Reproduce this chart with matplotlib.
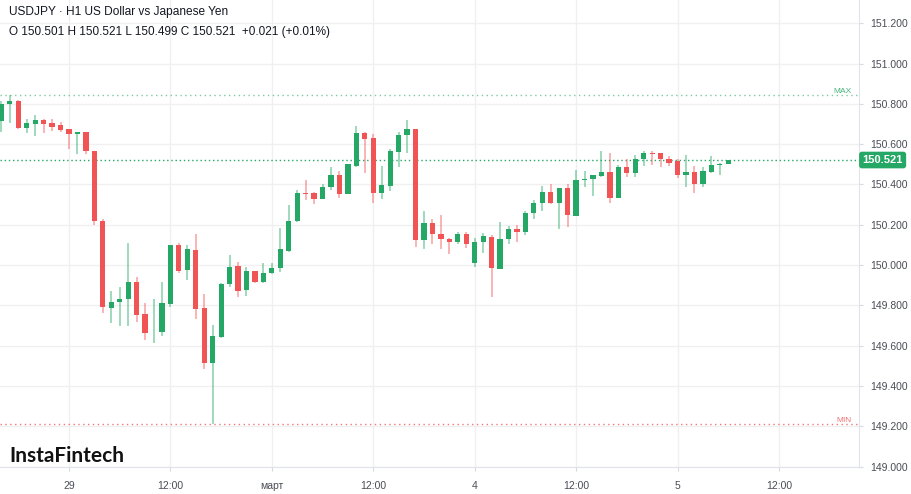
import matplotlib
matplotlib.use("Agg")
import matplotlib.pyplot as plt
import matplotlib.transforms as mtransforms
import numpy as np

# bar index 0 = 29 Feb 00:00, hourly candles (weekend skipped)
hours = list(range(-8, 79))

opens = [150.715, 150.801, 150.816, 150.678, 150.701, 150.720, 150.703, 150.693,
         150.675, 150.648, 150.662, 150.567, 150.220, 149.788, 149.816, 149.830,
         149.914, 149.757, 149.670, 149.669, 149.806, 150.101, 149.975, 150.074,
         149.787, 149.512, 149.644, 149.906, 149.997, 149.874, 149.969, 149.914,
         149.959, 149.983, 150.071, 150.218, 150.357, 150.357, 150.326, 150.385,
         150.447, 150.352, 150.493, 150.657, 150.630, 150.359, 150.392, 150.562,
         150.645, 150.675, 150.124, 150.207, 150.154, 150.131, 150.116, 150.154,
         150.008, 150.116, 150.141, 149.980, 150.128, 150.180, 150.164, 150.256,
         150.306, 150.364, 150.309, 150.384, 150.243, 150.422, 150.425, 150.442,
         150.462, 150.334, 150.488, 150.455, 150.524, 150.557, 150.557, 150.524,
         150.518, 150.447, 150.462, 150.400, 150.463, 150.496, 150.501]
highs = [150.815, 150.845, 150.819, 150.725, 150.744, 150.725, 150.725, 150.711,
         150.675, 150.662, 150.662, 150.567, 150.227, 149.873, 149.889, 150.108,
         149.939, 149.810, 149.831, 149.914, 150.101, 150.108, 150.101, 150.154,
         149.854, 149.702, 149.909, 150.050, 150.017, 149.992, 149.972, 150.008,
         150.008, 150.185, 150.296, 150.372, 150.422, 150.364, 150.402, 150.485,
         150.468, 150.501, 150.691, 150.662, 150.650, 150.490, 150.574, 150.662,
         150.720, 150.677, 150.270, 150.227, 150.248, 150.133, 150.165, 150.165,
         150.136, 150.157, 150.149, 150.212, 150.194, 150.197, 150.270, 150.323,
         150.392, 150.402, 150.384, 150.402, 150.471, 150.468, 150.448, 150.567,
         150.557, 150.498, 150.528, 150.544, 150.566, 150.566, 150.557, 150.541,
         150.524, 150.546, 150.491, 150.488, 150.541, 150.508, 150.521]
lows = [150.662, 150.706, 150.675, 150.653, 150.642, 150.653, 150.665, 150.662,
        150.576, 150.549, 150.551, 150.197, 149.763, 149.714, 149.699, 149.699,
        149.717, 149.628, 149.615, 149.648, 149.793, 149.962, 149.926, 149.734,
        149.482, 149.209, 149.640, 149.892, 149.843, 149.848, 149.912, 149.909,
        149.956, 149.967, 150.065, 150.215, 150.323, 150.303, 150.326, 150.372,
        150.331, 150.350, 150.488, 150.455, 150.306, 150.326, 150.369, 150.485,
        150.557, 150.091, 150.078, 150.103, 150.078, 150.053, 150.103, 150.083,
        149.992, 150.058, 149.843, 149.978, 150.103, 150.114, 150.147, 150.227,
        150.270, 150.303, 150.177, 150.190, 150.243, 150.389, 150.342, 150.438,
        150.309, 150.331, 150.435, 150.435, 150.491, 150.496, 150.485, 150.491,
        150.430, 150.389, 150.356, 150.389, 150.455, 150.447, 150.499]
closes = [150.800, 150.814, 150.682, 150.705, 150.720, 150.698, 150.687, 150.668,
          150.648, 150.662, 150.567, 150.218, 149.793, 149.818, 149.831, 149.914,
          149.754, 149.664, 149.672, 149.810, 150.101, 149.972, 150.078, 149.783,
          149.515, 149.648, 149.906, 149.992, 149.869, 149.970, 149.914, 149.959,
          149.987, 150.078, 150.218, 150.357, 150.354, 150.326, 150.385, 150.447,
          150.352, 150.501, 150.653, 150.627, 150.359, 150.395, 150.566, 150.645,
          150.675, 150.124, 150.207, 150.152, 150.129, 150.116, 150.154, 150.103,
          150.116, 150.144, 149.987, 150.131, 150.179, 150.165, 150.256, 150.306,
          150.364, 150.308, 150.384, 150.248, 150.422, 150.427, 150.448, 150.462,
          150.334, 150.488, 150.455, 150.528, 150.557, 150.551, 150.524, 150.508,
          150.447, 150.462, 150.400, 150.466, 150.496, 150.501, 150.521]

tick_hours = [0, 12, 24, 36, 48, 60, 72, 84]
tick_labels = ["29", "12:00", "март", "12:00", "4", "12:00", "5", "12:00"]
price_ticks = [149.0, 149.2, 149.4, 149.6, 149.8, 150.0, 150.2, 150.4, 150.6, 150.8, 151.0, 151.2]

title = "USDJPY · H1 US Dollar vs Japanese Yen"
ohlc_line = "O 150.501 H 150.521 L 150.499 C 150.521  +0.021 (+0.01%)"

UP = "#25a865"
DOWN = "#f15454"
GRID = "#f0f0f0"
TEXT = "#131722"

plt.rcParams["font.family"] = ["Liberation Sans", "DejaVu Sans"]

fig = plt.figure(figsize=(9.12, 4.94), dpi=100)
# plot area: x 0..859 px, y 0..467 px (from top)
ax = fig.add_axes([0, 27 / 494, 859 / 912, 467 / 494])

x = np.array(hours)
o = np.array(opens)
h = np.array(highs)
l = np.array(lows)
c = np.array(closes)
up = c >= o
colors = np.where(up, UP, DOWN)

# wicks first, then bodies
ax.vlines(x, l, h, colors=colors, linewidth=1.1, alpha=0.55, zorder=3)
body_bottom = np.minimum(o, c)
body_height = np.maximum(np.abs(c - o), 0.004)
ax.bar(x, body_height, bottom=body_bottom, width=0.62, color=colors,
       linewidth=0, zorder=4)

# max / min / last price lines
hi = h.max()
lo = l.min()
last = c[-1]
ax.axhline(hi, color=UP, linestyle=(0, (1, 2.5)), linewidth=1, alpha=0.6, zorder=2)
ax.axhline(lo, color=DOWN, linestyle=(0, (1, 2.5)), linewidth=1, alpha=0.8, zorder=2)
ax.axhline(last, color=UP, linestyle=(0, (1, 2)), linewidth=1, zorder=2)

trans = mtransforms.blended_transform_factory(ax.transAxes, ax.transData)
ax.text(0.991, hi, "MAX", transform=trans, ha="right", va="bottom", fontsize=6,
        color=UP, alpha=0.85)
ax.text(0.991, lo, "MIN", transform=trans, ha="right", va="bottom", fontsize=6,
        color=DOWN, alpha=0.85)

# last price label on the axis
ax.text(1.004, last, "%.3f" % last, transform=trans, ha="left", va="center",
        fontsize=8, fontweight="bold", color="white", zorder=10, clip_on=False,
        bbox=dict(boxstyle="round,pad=0.3,rounding_size=0.25", facecolor=UP,
                  edgecolor="none"))

ax.set_xlim(-69 / 8.452, 790 / 8.452)
ax.set_ylim(150 - 202 / 201.5, 150 + 265 / 201.5)

ax.set_xticks(tick_hours)
ax.set_xticklabels(tick_labels)
ax.set_yticks(price_ticks)
ax.set_yticklabels(["%.3f" % p for p in price_ticks])
ax.yaxis.tick_right()
ax.tick_params(axis="both", length=3, color="#d6dae3", labelsize=7.5, labelcolor="#4a4d55")
ax.tick_params(axis="y", pad=5)
ax.tick_params(axis="x", pad=7)
ax.grid(True, color=GRID, linewidth=1, zorder=0)
ax.set_axisbelow(True)

for side in ["top", "left"]:
    ax.spines[side].set_visible(False)
for side in ["right", "bottom"]:
    ax.spines[side].set_color("#e0e3eb")

# header texts
fig.text(9 / 912, 1 - 12 / 494, title, fontsize=8.6, color=TEXT, va="center", ha="left")
fig.text(9 / 912, 1 - 32 / 494, ohlc_line, fontsize=8.5, color=TEXT, va="center", ha="left")

# watermark logo
fig.text(9 / 912, 1 - 456 / 494, "InstaFintech", fontsize=15, color="#111111",
         family=["Lato", "DejaVu Sans"], fontweight="bold", va="center", ha="left")

fig.savefig("out.png", dpi=100, facecolor="white")
